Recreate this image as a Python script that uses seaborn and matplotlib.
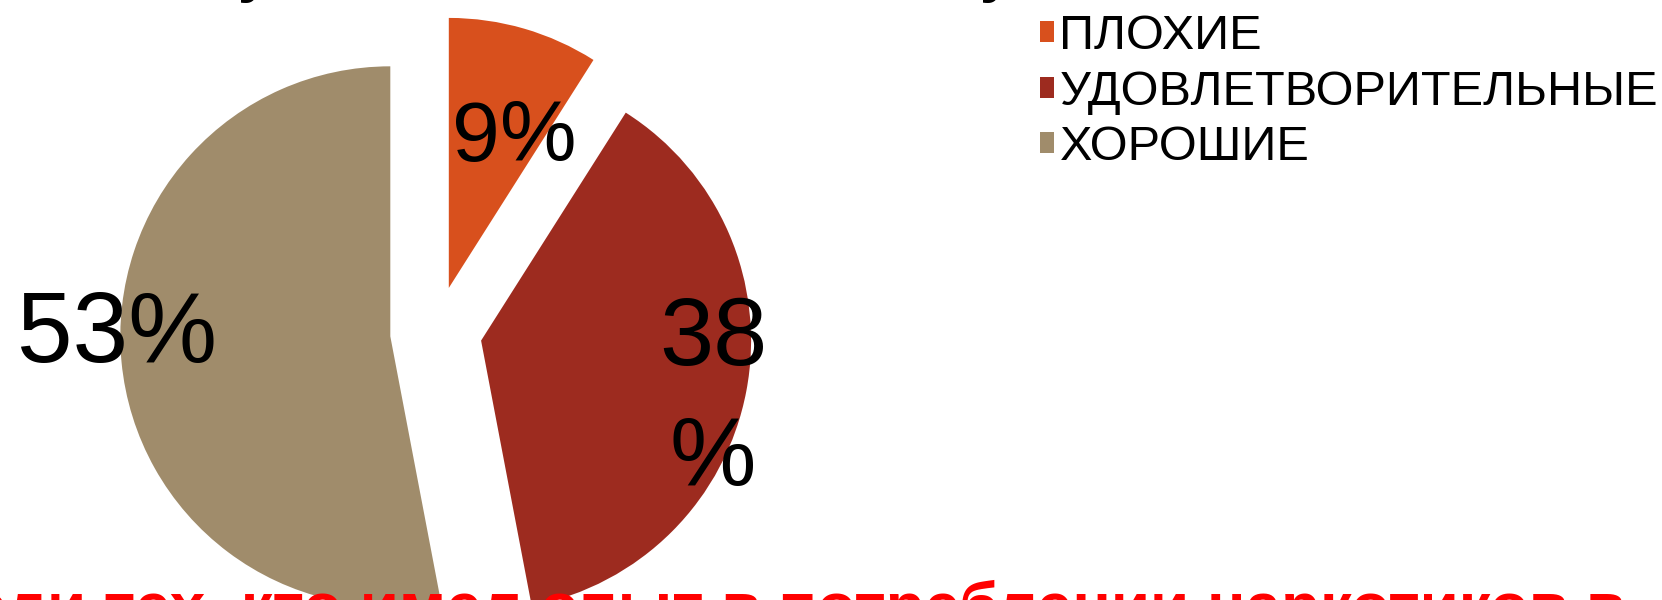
import matplotlib
matplotlib.use("Agg")
import matplotlib.pyplot as plt
import seaborn as sns

# ---- data ----
categories = ["ПЛОХИЕ", "УДОВЛЕТВОРИТЕЛЬНЫЕ", "ХОРОШИЕ"]
values = [9, 38, 53]
pct_labels = ["9%", "38\n%", "53%"]
colors = ["#D8501D", "#9D2B1F", "#A08C6B"]
bottom_text = "Среди тех, кто имел опыт в потреблении наркотиков в"

sns.set_theme(style="white")
plt.rcParams["font.family"] = ["Liberation Sans", "DejaVu Sans"]

W, H = 1662, 600
fig = plt.figure(figsize=(W / 100, H / 100), dpi=100)
ax = fig.add_axes([0, 0, 1, 1])

R = 270.0          # pie radius in pixels
cx, cy = 436, 332  # pie centre in pixels (from top)

wedges, _ = ax.pie(values, colors=colors, startangle=90, counterclock=False,
                   explode=[0.17, 0.17, 0.17], radius=1,
                   wedgeprops=dict(linewidth=0))
ax.set_xlim(-cx / R, (W - cx) / R)
ax.set_ylim(-(H - cy) / R, cy / R)
ax.set_aspect("equal")
ax.axis("off")

def px(x, y):
    return (x - cx) / R, (cy - y) / R

# percentage labels
label_pos = [(514, 139), (713, 400), (117, 336)]
label_size = [62, 70, 72]
for lab, (x, y), fs in zip(pct_labels, label_pos, label_size):
    ax.text(*px(x, y), lab, ha="center", va="center", fontsize=fs,
            color="black", linespacing=1.42, multialignment="center")

# legend
leg = fig.legend(wedges, categories, loc="upper left",
                 bbox_to_anchor=(1040 / W, 1 - 14 / H), frameon=False,
                 fontsize=35, handlelength=0.28, handleheight=0.28,
                 handletextpad=0.12, labelspacing=0.22, borderpad=0,
                 borderaxespad=0, labelcolor="black")

# cut-off title fragments (descenders) and bottom red caption
for xpos in (254, 996):
    fig.text(xpos / W, 1 + 9 / H, "у", ha="center", va="baseline",
             fontsize=42, fontweight="bold", color="black")
fig.text(1625 / W, -28 / H, bottom_text, ha="right", va="baseline",
         fontsize=46, fontweight="bold", color="#FF0000")

fig.savefig("out.png", dpi=100)
